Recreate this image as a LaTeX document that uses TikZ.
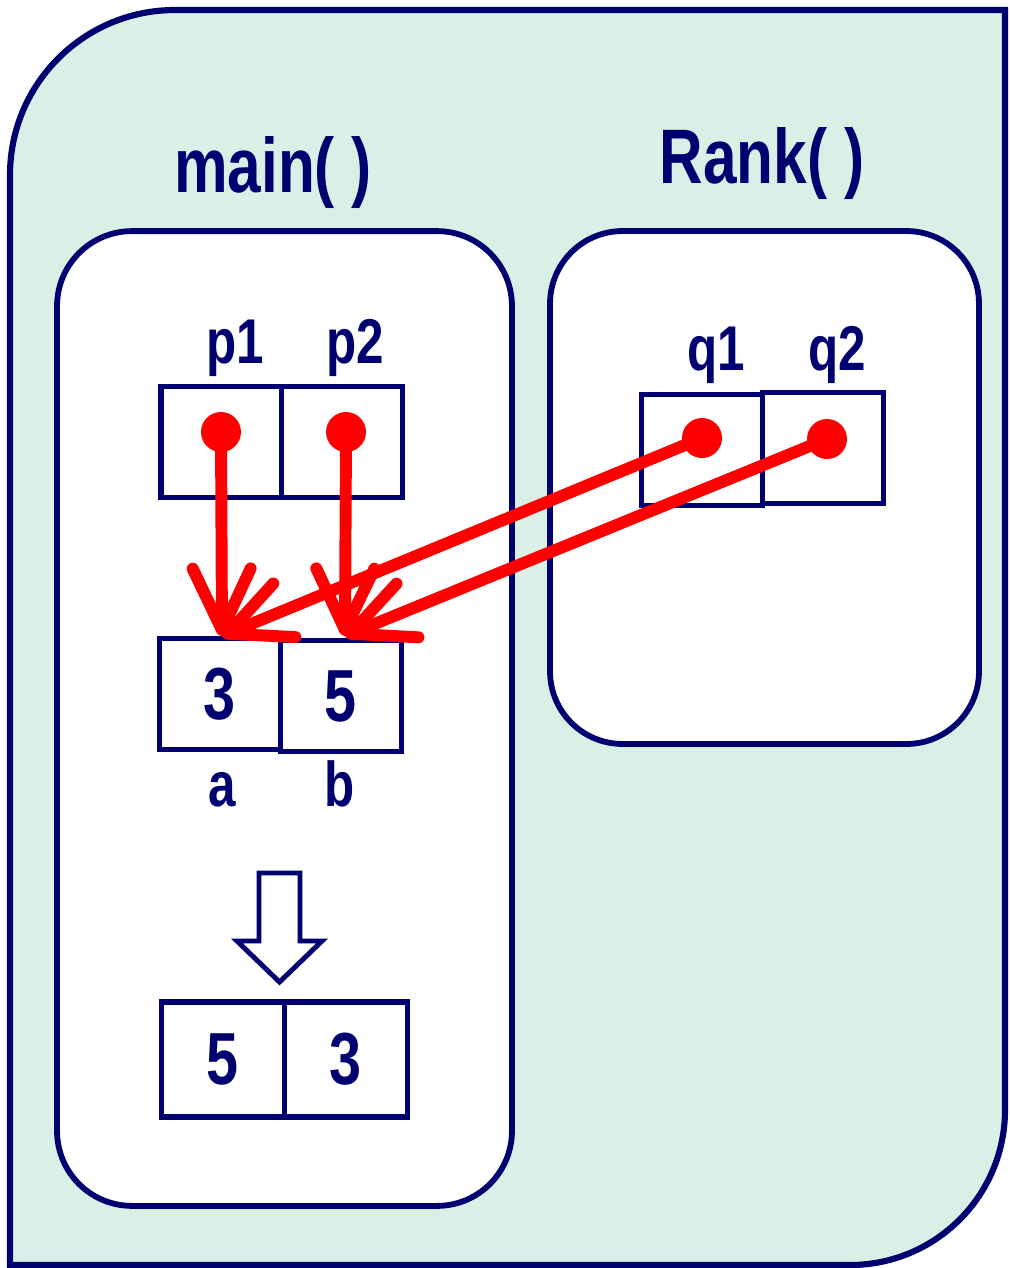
\documentclass[tikz,border=0pt]{standalone}
\usepackage{fontspec}
\setmainfont{Liberation Sans}[FakeStretch=0.78]
\usetikzlibrary{arrows.meta}
\definecolor{navy}{RGB}{0,0,112}
\definecolor{mint}{RGB}{218,240,231}
\definecolor{ptrred}{RGB}{255,0,0}
\begin{document}
\begin{tikzpicture}[x=0.02cm,y=-0.02cm,
 cell/.style={draw=navy, line width=3.3pt, fill=white, minimum width=2.42cm, minimum height=2.22cm, inner sep=0pt, font=\fontsize{42}{42}\selectfont\bfseries, text=navy},
 lbl/.style={font=\fontsize{36}{36}\selectfont\bfseries, text=navy, inner sep=0pt, anchor=base},
 ttl/.style={font=\fontsize{44}{44}\selectfont\bfseries, text=navy, inner sep=0pt, anchor=base},
 fnframe/.style={draw=navy, line width=3.3pt, fill=white, rounded corners=1.5cm, inner sep=0pt},
 ptrdot/.style={circle, fill=ptrred, minimum size=0.8cm, inner sep=0pt},
 ptr/.style={draw=ptrred, line width=6.8pt, line cap=round, -{Straight Barb[round, length=35pt, width=33pt]}}
]
\path[use as bounding box] (0,0) rectangle (1009,1268);
\draw[navy, line width=3.5pt, fill=mint] (10,1265) -- (10,175) arc[start angle=180, end angle=270, radius=165] -- (1005,10) -- (1005,1110) arc[start angle=0, end angle=90, radius=155] -- cycle;

\node[fnframe, minimum width=9.1cm, minimum height=19.5cm] (mainf) at (284.5,718.5) {};
\node[fnframe, minimum width=8.58cm, minimum height=10.26cm, rounded corners=1.45cm] (rankf) at (764.5,487.5) {};

\node[ttl] (tmain) at (273,192) {main( )};
\node[ttl] (trank) at (762,183) {Rank( )};

\node[cell] (p1) at (221.5,442) {};
\node[cell] (p2) at (342,442) {};
\node[cell] (a) at (220,694) {3};
\node[cell] (b) at (341,696) {5};
\node[cell] (q1) at (702,450) {};
\node[cell] (q2) at (823,448) {};
\node[cell, minimum width=2.46cm, minimum height=2.3cm] (r1) at (223,1059.5) {5};
\node[cell, minimum width=2.46cm, minimum height=2.3cm] (r2) at (346,1059.5) {3};

\node[lbl] (lp1) at (235,363) {p1};
\node[lbl] (lp2) at (355,363) {p2};
\node[lbl] (lq1) at (716,370) {q1};
\node[lbl] (lq2) at (837,370) {q2};
\node[lbl] (la) at (222,806) {a};
\node[lbl] (lb) at (340,806) {b};

\draw[navy, line width=2.8pt, fill=white, line join=miter] (259,873) -- (300,873) -- (300,941) -- (322,941) -- (279.5,982) -- (237,941) -- (259,941) -- cycle;

\node[ptrdot] (d1) at (221,432) {};
\node[ptrdot] (d2) at (346,432) {};
\node[ptrdot] (e1) at (702,438) {};
\node[ptrdot] (e2) at (827,439) {};
\coordinate (ta) at (222,636);
\coordinate (tb) at (345,636);

\draw[ptr] (d1.center) -- (ta);
\draw[ptr] (d2.center) -- (tb);
\draw[ptr] (e1.center) -- (ta);
\draw[ptr] (e2.center) -- (tb);
\end{tikzpicture}
\end{document}
